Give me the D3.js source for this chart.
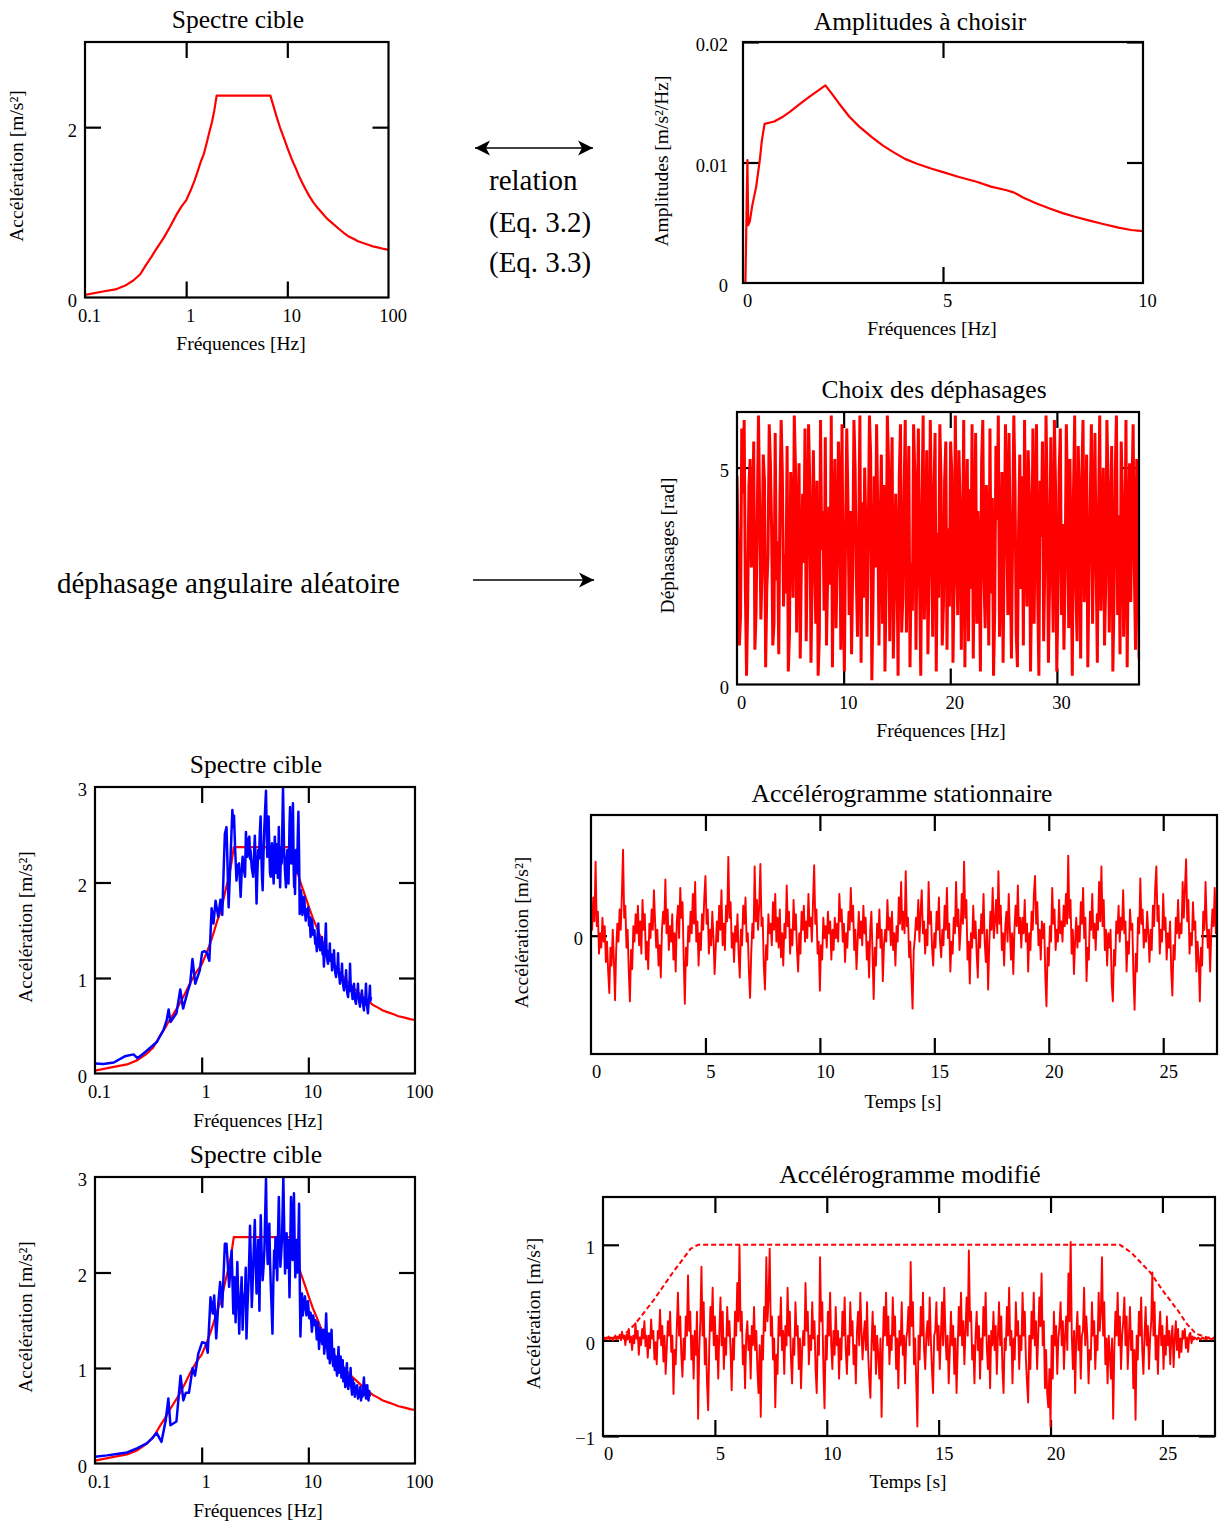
<!DOCTYPE html>
<html>
<head>
<meta charset="utf-8">
<script src="https://cdn.jsdelivr.net/npm/d3@7"></script>
<style>
  html, body { margin: 0; padding: 0; background: #fff; }
  svg { display: block; font-family: "Liberation Serif", "Times New Roman", Times, serif; }
</style>
</head>
<body>
<svg id="fig" width="1227" height="1523"></svg>
<script>
// ---------- Target response spectrum (m/s²) ----------
const targetFreq = [0.1,0.15,0.2,0.25,0.3,0.35,0.4,0.45,0.5,0.6,0.7,0.8,0.9,1.0,1.1,1.2,1.3,1.4,1.5,1.6,1.7,1.8,1.9,2.0,
  6.8,7.2,7.8,8.5,9.2,10,11,12,13,14,15,16.5,18,20,22.5,25,28,32,36,40,45,50,56,63,70,80,90,100];
const targetAccel = [0.03,0.07,0.095,0.14,0.2,0.27,0.38,0.47,0.56,0.70,0.84,0.97,1.07,1.14,1.25,1.36,1.48,1.60,1.69,1.82,1.95,2.06,2.20,2.37,
  2.37,2.27,2.13,1.99,1.88,1.76,1.63,1.53,1.43,1.35,1.28,1.19,1.12,1.05,0.98,0.92,0.87,0.81,0.76,0.72,0.69,0.66,0.64,0.62,0.60,0.585,0.57,0.56];

// ---------- Fourier amplitudes to choose (m/s²/Hz) ----------
const ampFreq = [0.03,0.06,0.11,0.13,0.17,0.23,0.33,0.42,0.47,0.54,0.78,1.0,1.17,1.4,1.64,1.85,2.06,2.2,2.4,2.66,2.9,3.22,3.5,3.79,4.05,4.35,
  4.7,5.0,5.4,5.84,6.2,6.59,6.78,7.0,7.34,7.65,7.99,8.3,8.64,9.0,9.39,9.7,10];
const ampValue = [0,0,0.0102,0.0048,0.0051,0.0064,0.0080,0.0102,0.0118,0.0132,0.0134,0.0138,0.0142,0.0148,0.0154,0.0159,0.0164,0.0158,0.0149,0.0138,
  0.0130,0.0121,0.0114,0.0108,0.0103,0.0099,0.0095,0.0092,0.0088,0.0084,0.0080,0.0077,0.0075,0.0071,0.0066,0.0062,0.0058,0.0055,0.0052,0.0049,
  0.0046,0.0044,0.0043];

// ---------- Random phase angles (rad), one per frequency line ----------
const phaseStep = 0.1119; // Hz between lines
const phaseAngle = [
  4.8,3.1,0.9,1.6,5.9,4.4,6.1,2.2,0.2,1.9,4.6,5.2,2.7,3.4,5.6,0.8,1.7,3.9,6.2,4.1,
  1.5,2.6,5.3,4.7,0.4,2.2,3.0,6.0,5.1,3.6,0.9,1.4,5.8,2.4,3.3,0.7,4.3,6.1,4.9,1.8,
  3.0,2.1,5.5,0.3,1.2,4.9,3.8,2.0,6.2,5.0,1.2,3.7,5.1,0.6,2.9,4.4,2.8,5.9,1.0,3.3,
  6.0,4.6,0.5,2.6,5.4,3.2,1.4,4.7,0.2,1.1,6.1,3.1,4.0,1.7,5.7,0.9,2.5,4.1,2.3,6.2,
  0.4,3.8,5.2,1.3,2.9,5.6,4.5,0.8,6.0,2.1,0.3,3.5,5.9,4.2,1.6,4.0,0.7,2.7,6.1,5.0,
  2.5,1.1,3.4,6.2,0.5,4.2,2.0,5.0,3.6,1.1,3.4,6.2,5.3,0.1,1.9,4.8,2.7,6.0,3.9,0.9,
  3.6,5.3,1.4,4.6,0.3,2.3,6.2,5.1,1.0,3.9,5.7,0.6,2.2,4.4,3.1,0.2,4.8,6.0,1.2,2.0,
  4.4,6.1,1.2,3.3,5.5,0.4,2.8,1.7,6.0,4.9,0.8,3.7,5.9,2.4,0.2,4.1,6.2,1.5,3.0,5.4,
  0.7,2.6,6.1,3.9,1.1,4.3,5.8,0.3,3.5,2.0,6.0,4.7,0.9,1.8,4.7,5.6,0.8,3.6,1.8,5.6,
  4.9,0.5,2.4,6.2,3.0,1.6,5.4,4.1,0.8,2.9,6.1,0.4,3.7,5.2,1.0,4.5,2.2,6.0,0.6,3.2,
  5.8,1.4,4.0,2.8,0.3,5.1,6.1,2.4,1.3,4.6,3.4,0.9,5.9,2.1,4.3,0.2,1.7,5.5,3.8,6.2,
  1.1,2.5,4.9,0.5,3.2,6.0,4.2,1.6,5.8,2.9,0.6,3.5,6.2,4.6,1.2,0.4,3.6,5.3,2.2,4.8,
  0.9,6.1,3.0,1.8,5.4,4.4,0.3,2.5,5.9,1.4,3.9,6.0,2.1,0.2,4.7,3.4,5.6,1.0,2.8,6.2,
  4.1,0.5,2.4,5.7,3.3,1.2,6.1,4.5,0.3,2.0,4.9,5.9,1.6,3.7,0.8,2.6,6.0,4.3,1.3,5.2,
  3.1,0.2,4.4,6.2,2.2,1.0,5.5,3.8,0.6,4.8,6.1,1.9,3.0,5.3,0.4,2.5,4.2,6.0,1.4,3.6,
  5.8,2.7,0.5,4.0,6.2,1.7,3.4,5.0,0.9,2.3,6.1,4.6,1.2,3.8,5.5,0.3,2.0,4.9,6.2,1.6,
  3.9,0.7,5.6,4.3,1.1,2.9,6.1,0.4,3.3,5.1,1.9,4.5,6.0,2.6,0.8,5.2,3.7,0.6
];

// ---------- Response spectra of the generated signals: [frequency Hz, accel m/s²] ----------
const spectrumStationary = [
  [0.10,0.105],[0.12,0.10],[0.15,0.115],[0.19,0.18],[0.23,0.20],[0.25,0.16],[0.30,0.23],[0.38,0.33],[0.44,0.46],[0.47,0.56],
  [0.49,0.67],[0.51,0.54],[0.58,0.63],[0.63,0.88],[0.67,0.68],[0.74,0.86],[0.78,0.94],[0.82,1.20],[0.87,0.94],[0.96,1.08],
  [1.01,1.27],[1.06,1.28],[1.11,1.27],[1.18,1.18],[1.24,1.73],[1.29,1.57],[1.35,1.81],[1.43,1.64],[1.50,1.82],[1.56,1.66],
  [1.60,2.06],[1.65,2.51],[1.71,2.58],[1.79,1.74],[1.84,2.09],[1.94,2.76],[1.98,2.58],[2.01,2.70],[2.06,2.35],[2.12,2.02],
  [2.18,2.18],[2.24,2.20],[2.32,1.85],[2.37,2.10],[2.42,2.27],[2.48,2.15],[2.55,2.06],[2.60,2.53],[2.64,2.35],[2.68,2.27],
  [2.74,2.45],[2.80,2.48],[2.84,2.25],[2.87,2.34],[2.95,2.15],[3.04,2.06],[3.10,2.30],[3.15,2.49],[3.21,2.20],[3.27,1.78],
  [3.33,2.10],[3.39,2.34],[3.45,2.25],[3.51,2.52],[3.57,2.69],[3.63,2.30],[3.68,2.05],[3.73,1.92],[3.80,2.30],[3.87,2.58],
  [3.94,2.78],[4.01,2.96],[4.07,2.55],[4.12,2.27],[4.18,2.50],[4.24,2.69],[4.31,2.35],[4.37,2.10],[4.44,2.06],[4.50,2.30],
  [4.56,2.41],[4.61,2.20],[4.67,2.10],[4.73,1.99],[4.78,2.25],[4.85,2.48],[4.92,2.30],[4.98,2.10],[5.04,2.20],[5.11,2.40],
  [5.18,2.05],[5.24,2.30],[5.29,2.58],[5.35,2.25],[5.40,2.10],[5.44,1.95],[5.50,2.20],[5.57,2.37],[5.63,2.20],[5.70,2.55],
  [5.79,3.00],[5.85,2.70],[5.92,2.35],[6.02,2.16],[6.09,2.05],[6.17,1.95],[6.25,2.20],[6.36,2.34],[6.45,2.10],[6.52,1.99],
  [6.59,2.30],[6.66,2.60],[6.74,2.79],[6.84,2.40],[6.93,2.20],[7.02,2.41],[7.10,2.60],[7.17,2.83],[7.23,2.50],[7.30,2.10],
  [7.37,1.95],[7.44,2.15],[7.50,1.88],[7.58,2.20],[7.66,2.34],[7.72,2.20],[7.80,2.10],[7.87,2.13],[7.95,2.45],[8.07,2.74],
  [8.19,2.30],[8.30,1.67],[8.38,1.80],[8.50,1.92],[8.66,1.85],[8.80,1.66],[8.99,1.78],[9.15,1.85],[9.30,1.70],[9.45,1.60],
  [9.64,1.72],[9.80,1.65],[9.98,1.74],[10.15,1.55],[10.3,1.64],[10.5,1.43],[10.7,1.62],[10.9,1.57],[11.1,1.45],[11.4,1.50],
  [11.6,1.36],[11.8,1.40],[12.0,1.28],[12.2,1.45],[12.4,1.57],[12.6,1.35],[12.9,1.29],[13.1,1.38],[13.4,1.43],[13.6,1.25],
  [13.8,1.32],[14.0,1.12],[14.2,1.30],[14.4,1.40],[14.6,1.57],[14.8,1.30],[15.0,1.20],[15.3,1.15],[15.5,1.28],[15.7,1.22],
  [15.9,1.36],[16.1,1.18],[16.4,1.25],[16.7,1.08],[16.9,1.20],[17.1,1.12],[17.4,1.29],[17.6,1.15],[17.9,1.05],[18.2,1.01],
  [18.4,1.12],[18.7,1.06],[19.0,1.26],[19.2,1.10],[19.5,1.02],[19.8,0.94],[20.0,1.04],[20.3,0.98],[20.7,1.15],[20.9,1.00],
  [21.2,0.93],[21.6,0.87],[21.9,0.98],[22.2,0.94],[22.6,1.08],[22.9,0.90],[23.2,0.84],[23.6,0.80],[23.9,0.92],[24.2,0.86],
  [24.6,1.15],[24.9,0.95],[25.3,0.88],[25.7,0.84],[26.0,0.78],[26.4,0.90],[26.8,0.94],[27.1,0.82],[27.5,0.76],[28.0,0.73],
  [28.3,0.84],[28.7,0.80],[29.2,0.94],[29.5,0.82],[30.0,0.75],[30.5,0.70],[30.9,0.80],[31.3,0.76],[31.8,0.87],[32.2,0.78],
  [32.7,0.72],[33.2,0.66],[33.6,0.78],[34.1,0.72],[34.7,0.94],[35.1,0.80],[35.6,0.70],[36.2,0.63],[36.7,0.74],[37.2,0.78],
  [37.8,0.92],[38.2,0.76],[38.7,0.80]
];
const spectrumModified = [
  [0.10,0.07],[0.13,0.085],[0.16,0.10],[0.20,0.115],[0.25,0.16],[0.305,0.21],[0.34,0.26],[0.378,0.32],[0.42,0.227],[0.46,0.45],
  [0.487,0.68],[0.51,0.40],[0.58,0.44],[0.634,0.92],[0.673,0.66],[0.71,0.74],[0.76,0.74],[0.823,1.00],[0.866,0.92],[0.93,1.15],
  [1.01,1.27],[1.09,1.26],[1.14,1.16],[1.21,1.74],[1.27,1.57],[1.31,1.76],[1.37,1.31],[1.43,1.67],[1.49,1.90],[1.56,1.64],
  [1.65,2.30],[1.71,2.30],[1.81,1.85],[1.91,2.23],[1.98,1.57],[2.03,1.95],[2.08,1.48],[2.12,1.80],[2.16,2.11],[2.20,1.75],
  [2.25,1.36],[2.28,1.60],[2.32,1.74],[2.37,1.95],[2.42,1.40],[2.48,1.70],[2.55,1.81],[2.59,2.05],[2.63,1.31],[2.69,1.65],
  [2.75,1.90],[2.80,2.20],[2.84,2.49],[2.90,2.05],[2.95,1.64],[3.00,1.85],[3.04,2.06],[3.09,2.30],[3.15,2.55],[3.21,2.10],
  [3.27,1.78],[3.33,2.05],[3.39,2.34],[3.44,1.95],[3.48,1.60],[3.53,2.15],[3.58,2.60],[3.65,2.20],[3.73,1.92],[3.80,2.05],
  [3.87,2.23],[3.94,2.60],[4.01,2.98],[4.08,2.40],[4.16,2.09],[4.23,2.30],[4.31,2.51],[4.37,2.15],[4.44,1.88],[4.52,1.65],
  [4.61,1.36],[4.70,1.90],[4.78,2.23],[4.85,2.05],[4.92,2.37],[5.01,2.15],[5.11,1.92],[5.20,2.40],[5.29,2.79],[5.38,2.35],
  [5.47,2.06],[5.57,2.20],[5.67,2.37],[5.75,2.70],[5.83,3.00],[5.94,2.45],[6.05,1.99],[6.15,2.20],[6.26,2.41],[6.37,2.05],
  [6.48,2.34],[6.57,2.10],[6.66,1.74],[6.77,2.30],[6.88,2.79],[7.00,2.45],[7.12,2.13],[7.22,2.55],[7.33,2.83],[7.44,2.30],
  [7.55,1.95],[7.66,2.15],[7.78,2.34],[7.90,2.00],[8.01,2.13],[8.10,2.45],[8.19,2.72],[8.31,1.90],[8.43,1.33],[8.57,1.60],
  [8.72,1.78],[8.88,1.55],[9.05,1.64],[9.3,1.75],[9.6,1.55],[9.9,1.70],[10.2,1.52],[10.5,1.58],[10.8,1.38],[11.1,1.55],
  [11.4,1.45],[11.7,1.50],[12.0,1.30],[12.3,1.48],[12.6,1.20],[12.9,1.42],[13.2,1.35],[13.5,1.25],[13.8,1.40],[14.1,1.15],
  [14.4,1.30],[14.7,1.57],[15.0,1.22],[15.3,1.10],[15.6,1.36],[15.9,1.05],[16.2,1.25],[16.5,1.40],[16.8,1.10],[17.1,1.02],
  [17.4,1.20],[17.7,0.98],[18.0,1.12],[18.3,1.00],[18.6,0.92],[18.9,1.08],[19.2,1.22],[19.5,0.95],[19.8,1.05],[20.1,1.12],
  [20.4,0.90],[20.7,0.98],[21.0,1.08],[21.3,0.86],[21.6,1.00],[21.9,0.92],[22.2,0.80],[22.6,0.95],[23.0,1.05],[23.3,0.84],
  [23.7,0.78],[24.1,0.92],[24.5,0.82],[24.9,1.00],[25.3,0.80],[25.7,0.72],[26.1,0.88],[26.5,0.78],[26.9,0.84],[27.3,0.70],
  [27.8,0.80],[28.2,0.74],[28.7,0.82],[29.2,0.68],[29.7,0.76],[30.2,0.70],[30.7,0.80],[31.2,0.66],[31.7,0.74],[32.2,0.70],
  [32.7,0.80],[33.2,0.90],[33.7,0.72],[34.2,0.82],[34.7,0.68],[35.2,0.76],[35.7,0.82],[36.2,0.68],[36.7,0.66],[37.2,0.76],
  [37.7,0.70]
];

// ---------- Accelerograms (m/s²), sampled every accelStep seconds ----------
const accelStep = 0.05;
const stationaryAccel = [
  0.25,0.05,0.32,0.12,0.62,0.08,0.20,-0.15,0.02,-0.10,0.15,-0.05,0.08,-0.22,-0.05,-0.30,-0.48,-0.10,-0.25,0.05,
  -0.20,-0.54,-0.12,0.10,-0.05,0.22,0.05,0.35,0.72,0.15,0.25,-0.10,0.05,-0.30,-0.55,-0.12,-0.28,0.08,-0.05,0.18,
  0.02,0.25,-0.08,0.12,-0.15,0.30,0.05,0.18,-0.20,-0.05,-0.28,0.10,-0.02,0.22,0.05,0.38,0.12,-0.10,0.05,-0.25,
  -0.08,-0.35,0.05,0.20,0.10,0.47,0.02,0.22,-0.12,0.08,-0.05,0.18,-0.20,0.02,-0.30,0.12,0.25,-0.02,0.40,0.15,
  0.28,-0.20,-0.57,-0.10,-0.25,0.08,-0.05,0.20,0.02,0.35,0.10,0.45,-0.05,0.12,-0.25,0.02,-0.12,0.18,0.05,0.32,
  0.50,0.10,0.22,-0.15,0.05,-0.08,0.20,-0.02,-0.32,-0.10,0.12,-0.05,0.25,0.05,0.38,-0.08,0.10,-0.12,0.25,0.12,
  0.66,0.15,0.28,-0.10,0.02,-0.22,0.08,-0.05,0.18,-0.15,-0.35,0.05,-0.08,0.25,0.10,0.32,-0.05,0.02,-0.30,-0.52,
  -0.15,0.10,-0.02,0.58,0.12,0.30,0.05,0.25,0.60,0.08,0.15,-0.25,-0.45,-0.08,-0.20,0.18,0.02,0.10,-0.08,0.28,
  0.05,0.35,-0.05,0.15,-0.10,0.22,-0.18,0.02,-0.25,0.10,-0.02,0.42,0.08,0.20,-0.15,0.05,-0.08,0.30,0.05,0.18,
  -0.12,-0.30,0.02,-0.15,0.20,0.05,0.25,-0.05,0.12,-0.02,0.35,0.08,0.15,-0.05,0.28,0.59,0.10,0.22,-0.15,-0.05,
  -0.46,-0.08,-0.20,0.15,-0.02,0.08,-0.10,0.20,0.02,0.12,-0.20,0.05,-0.12,0.15,-0.02,0.10,-0.05,0.35,0.12,0.22,
  -0.05,0.10,-0.22,0.02,-0.10,0.20,0.05,0.40,0.12,0.25,-0.12,0.05,-0.28,-0.05,0.20,-0.02,0.12,-0.08,0.25,0.02,
  0.15,-0.20,-0.05,-0.35,0.05,0.20,-0.15,-0.53,-0.10,-0.25,0.10,-0.02,0.22,-0.10,0.05,-0.38,-0.08,0.05,-0.05,0.30,
  0.05,0.15,-0.08,0.20,-0.12,0.02,-0.25,0.08,-0.05,0.32,0.10,0.45,0.05,0.20,0.02,0.54,0.08,0.15,-0.18,-0.05,
  -0.35,-0.61,-0.12,-0.02,0.15,0.05,0.30,-0.05,0.20,0.38,0.02,0.12,-0.15,0.05,-0.08,0.45,0.10,0.20,-0.10,-0.25,
  0.02,-0.10,0.20,0.05,0.32,-0.05,-0.18,0.05,-0.08,0.25,0.05,0.40,-0.02,0.10,-0.30,-0.05,-0.15,0.15,0.02,0.45,
  0.08,0.22,-0.12,0.05,0.35,0.10,0.62,0.15,0.30,-0.20,-0.05,-0.40,0.02,-0.10,0.25,-0.02,0.12,-0.15,-0.35,0.05,
  -0.10,0.18,0.02,0.35,-0.05,-0.22,0.05,-0.45,-0.08,0.20,0.05,0.40,-0.02,0.12,0.30,0.02,0.54,0.10,0.25,-0.12,
  0.02,-0.25,0.08,0.20,-0.05,0.35,0.05,-0.20,0.02,-0.32,0.05,0.25,0.08,0.42,0.02,0.15,-0.10,0.15,0.02,0.30,
  -0.05,0.10,-0.30,0.02,-0.12,0.20,0.05,0.35,0.50,0.10,0.28,-0.08,0.05,-0.20,0.12,-0.02,0.10,-0.35,-0.59,-0.10,
  -0.25,0.08,-0.05,0.40,0.10,0.22,-0.12,0.05,-0.05,0.30,0.02,0.12,-0.05,0.25,0.08,0.35,0.10,0.67,0.15,0.30,
  -0.15,0.05,-0.32,-0.05,0.15,-0.10,0.08,-0.05,0.28,0.10,0.40,-0.02,0.15,-0.38,-0.10,-0.20,0.20,0.05,0.35,-0.02,
  0.10,-0.12,0.18,0.05,0.45,0.12,0.58,0.08,0.30,-0.12,0.05,-0.25,0.02,-0.10,0.05,-0.40,-0.55,-0.12,-0.25,0.12,
  0.02,0.25,-0.05,0.15,0.05,0.38,0.02,0.12,-0.30,-0.05,-0.15,0.22,0.05,0.10,-0.35,-0.62,-0.15,-0.30,0.15,0.02,
  0.48,0.10,0.22,-0.10,0.05,-0.05,0.20,0.02,-0.22,0.05,-0.12,0.25,0.08,0.40,0.58,0.12,0.25,-0.15,0.05,-0.05,
  0.35,0.05,0.15,-0.20,0.02,-0.10,0.12,-0.30,-0.50,-0.08,-0.20,0.15,0.02,0.30,-0.02,0.10,0.02,0.45,0.15,0.40,
  0.64,0.12,0.30,-0.15,0.02,-0.08,0.28,0.05,0.12,-0.30,-0.05,-0.20,-0.55,-0.10,-0.25,0.20,0.05,0.45,0.10,-0.10,
  0.05,-0.30,0.02,0.22,0.08,0.40,0.02,0.12
];
const modifiedAccel = [
  0.02,0.03,0.01,0.03,0.02,0.04,0.01,0.03,0.02,0.00,0.03,0.05,0.01,0.04,0.02,0.06,0.00,0.09,0.02,0.05,
  -0.05,0.06,0.01,0.12,-0.02,0.04,-0.10,0.05,-0.03,0.18,0.02,0.10,-0.15,0.03,-0.05,0.12,0.02,0.20,-0.06,0.05,
  -0.18,0.05,-0.08,0.22,0.02,0.10,-0.20,-0.02,-0.25,0.10,0.02,0.32,-0.05,0.15,-0.22,0.05,-0.35,-0.08,0.20,0.05,
  0.30,-0.12,0.05,-0.56,-0.10,-0.25,0.15,0.50,0.05,0.25,-0.15,-0.38,0.02,-0.20,0.25,0.05,0.68,0.10,0.30,-0.20,
  0.05,-0.40,0.10,-0.15,0.30,-0.82,-0.10,0.20,0.77,0.05,0.40,-0.25,0.02,-0.45,-0.73,-0.05,0.35,0.10,0.55,-0.05,
  0.25,-0.20,0.05,-0.40,0.10,0.45,-0.05,0.30,-0.30,0.02,-0.15,0.35,0.05,0.20,-0.10,-0.52,0.02,-0.20,0.30,0.05,
  0.60,0.20,0.99,0.10,0.30,-0.25,-0.05,-0.50,0.05,0.20,-0.10,0.05,-0.40,0.15,-0.05,0.35,-0.10,0.10,-0.30,-0.55,
  -0.05,-0.80,0.05,-0.20,0.35,0.10,0.87,0.20,0.45,0.96,0.05,0.25,-0.20,0.02,-0.70,-0.15,-0.35,0.25,0.05,0.45,
  -0.10,0.10,-0.35,0.15,-0.05,0.55,0.05,0.30,-0.20,-0.45,0.02,-0.15,0.40,0.05,0.15,-0.30,0.02,-0.50,-0.10,0.10,
  -0.05,0.60,0.10,0.30,-0.25,0.05,-0.10,0.40,0.02,0.20,-0.30,-0.55,0.05,-0.15,0.87,0.20,0.40,-0.30,-0.71,0.05,
  -0.20,0.30,0.05,0.50,-0.05,-0.30,0.10,-0.15,0.35,-0.05,0.10,-0.40,0.02,-0.20,0.30,0.05,0.45,-0.10,-0.35,0.05,
  -0.15,0.40,0.05,0.20,-0.25,-0.05,-0.45,0.10,0.30,-0.05,0.50,0.10,-0.20,0.05,0.20,-0.10,0.40,-0.15,-0.40,-0.60,
  -0.05,0.30,-0.10,0.15,-0.35,0.05,-0.15,-0.40,0.02,-0.80,-0.10,0.35,0.05,0.50,-0.05,0.25,-0.25,0.05,-0.10,0.45,
  0.05,0.25,-0.30,0.02,-0.50,0.10,-0.05,0.40,-0.15,0.05,-0.45,0.02,0.10,0.35,-0.05,0.82,0.15,0.40,-0.25,0.02,
  -0.45,-0.90,0.05,-0.20,0.35,0.05,0.50,-0.10,-0.30,0.05,0.20,-0.05,0.45,0.02,-0.30,-0.55,0.05,0.10,0.40,-0.10,
  0.15,-0.30,0.05,0.40,-0.05,0.55,0.10,-0.20,0.05,-0.45,-0.10,0.30,-0.05,0.15,-0.35,0.02,-0.55,-0.10,0.35,0.05,
  0.50,-0.05,0.20,-0.25,0.10,0.45,0.05,0.94,0.20,0.30,-0.20,-0.05,-0.45,0.05,0.30,-0.10,0.15,-0.40,0.02,-0.20,
  0.35,0.05,0.50,-0.05,-0.30,0.05,-0.50,0.10,-0.05,0.30,-0.10,0.15,-0.35,0.05,0.40,-0.05,0.25,-0.30,-0.55,0.02,
  -0.10,0.35,0.05,0.55,-0.05,0.10,-0.45,0.02,-0.20,0.40,0.05,0.20,-0.30,0.05,-0.10,0.50,0.05,0.30,-0.20,-0.45,
  -0.65,0.05,-0.30,0.30,0.02,0.50,-0.05,0.20,-0.30,0.05,0.45,0.15,0.70,-0.05,0.20,-0.50,-0.10,-0.55,-0.70,-0.30,
  -0.90,0.05,-0.40,0.30,-0.05,0.15,-0.35,0.02,0.15,0.40,-0.05,0.20,-0.30,0.05,0.25,-0.10,0.70,0.20,1.03,0.05,
  -0.30,0.10,-0.55,0.05,0.30,-0.10,0.15,-0.40,0.05,0.10,0.55,-0.05,0.25,0.02,-0.45,-0.10,-0.20,0.40,0.05,0.20,
  -0.30,0.05,-0.10,0.50,0.10,0.30,0.87,0.05,0.40,-0.25,0.02,-0.45,0.05,-0.15,-0.40,0.02,-0.82,-0.10,0.30,0.05,
  0.50,-0.05,0.25,-0.30,0.05,0.20,0.45,-0.05,0.25,-0.30,0.02,0.35,-0.10,0.10,-0.50,-0.10,-0.83,0.05,-0.20,0.30,
  0.05,0.45,-0.10,-0.35,0.05,0.35,-0.05,0.15,-0.30,0.02,0.20,0.71,0.05,0.40,-0.20,0.05,-0.35,0.10,0.30,-0.05,
  0.15,-0.30,0.05,-0.15,0.25,-0.05,0.10,-0.25,0.05,0.15,-0.28,0.02,0.20,-0.10,0.12,-0.18,0.02,-0.12,0.10,0.02,
  0.12,-0.08,0.03,-0.12,0.06,0.08,-0.03,0.04,0.01,0.03,0.02,0.01,0.03,0.02,0.01,0.02,0.03,0.02,0.02,0.01,
  0.02,0.03,0.02,0.02,0.01,0.02,0.03,0.02
];

// ---------- Time envelope (normalised) ----------
const envelopeTime  = [0,0.6,1.0,1.43,2.26,3.09,3.92,4.25,23.1,23.6,24.46,25.08,25.7,26.1,26.5,27.0,27.35];
const envelopeValue = [0.02,0.03,0.07,0.17,0.42,0.70,0.96,1.0,1.0,0.92,0.71,0.50,0.31,0.17,0.07,0.03,0.02];

// ---------- Drawing ----------
const svg = d3.select('#fig');
svg.append('rect').attr('width', 1227).attr('height', 1523).attr('fill', '#fff');

const RED = '#ff0000', BLUE = '#0000ff';
const TICK = 16;

function zip(xs, ys) { return xs.map((v, i) => [v, ys[i]]); }
function sampled(values, step) { return values.map((v, i) => [i * step, v]); }

function panel(c) {
  const x = (c.log ? d3.scaleLog() : d3.scaleLinear()).domain(c.xDomain).range([c.l, c.r]);
  const y = d3.scaleLinear().domain(c.yDomain).range([c.b, c.t]);
  const g = svg.append('g');

  // inward tick marks on all four sides (drawn beneath the curves)
  const tickAxes = [
    [d3.axisBottom(x).tickValues(c.xTicks), `translate(0,${c.b})`],
    [d3.axisTop(x).tickValues(c.xTicks), `translate(0,${c.t})`],
    [d3.axisLeft(y).tickValues(c.yTicks), `translate(${c.l},0)`],
    [d3.axisRight(y).tickValues(c.yTicks), `translate(${c.r},0)`]
  ];
  tickAxes.forEach(([ax, tr]) => {
    const a = g.append('g').attr('transform', tr).call(ax.tickSize(-TICK).tickFormat(''));
    a.select('.domain').remove();
    a.selectAll('.tick line').attr('stroke', '#000').attr('stroke-width', 2.2);
    a.selectAll('.tick text').remove();
  });

  const clipId = 'clip-' + c.id;
  g.append('clipPath').attr('id', clipId).append('rect')
    .attr('x', c.l).attr('y', c.t).attr('width', c.r - c.l).attr('height', c.b - c.t);
  const plot = g.append('g').attr('clip-path', `url(#${clipId})`);

  const line = d3.line().x(d => x(d[0])).y(d => y(d[1]));
  c.series.forEach(s => {
    plot.append('path').datum(s.data)
      .attr('d', line)
      .attr('fill', 'none')
      .attr('stroke', s.color)
      .attr('stroke-width', s.width)
      .attr('stroke-linejoin', s.join || 'round')
      .attr('stroke-dasharray', s.dash || null);
  });

  // frame
  g.append('rect').attr('x', c.l).attr('y', c.t).attr('width', c.r - c.l).attr('height', c.b - c.t)
    .attr('fill', 'none').attr('stroke', '#000').attr('stroke-width', 2.2);

  // tick labels
  const xl = g.append('g').attr('transform', `translate(0,${c.b})`)
    .call(d3.axisBottom(x).tickValues(c.xLabelVals).tickSize(0).tickPadding(11)
      .tickFormat((d, i) => c.xLabelText[i]));
  xl.select('.domain').remove();
  xl.attr('font-family', null).attr('font-size', null);
  xl.selectAll('text').attr('dx', c.xLabelDx || 4).attr('fill', '#000').style('font-size', '18.5px');

  const yl = g.append('g').attr('transform', `translate(${c.l},0)`)
    .call(d3.axisLeft(y).tickValues(c.yLabelVals).tickSize(0).tickPadding(c.yPad || 8)
      .tickFormat((d, i) => c.yLabelText[i]));
  yl.select('.domain').remove();
  yl.attr('font-family', null).attr('font-size', null);
  yl.selectAll('text').attr('y', 3).attr('fill', '#000').style('font-size', '18.5px');

  // titles
  g.append('text').attr('x', c.titleX).attr('y', c.titleY).attr('text-anchor', 'middle')
    .style('font-size', '25.5px').text(c.title);
  g.append('text').attr('x', c.xTitleX).attr('y', c.xTitleY).attr('text-anchor', 'middle')
    .style('font-size', '19.5px').text(c.xTitle);
  g.append('text').attr('transform', `translate(${c.yTitleX},${c.yTitleY}) rotate(-90)`)
    .attr('text-anchor', 'middle').style('font-size', '19.5px').text(c.yTitle);
}

const targetSeries = zip(targetFreq, targetAccel);
const logLabelVals = [0.1, 1, 10, 100], logLabelText = ['0.1', '1', '10', '100'];

// Target spectrum
panel({
  id: 'p1', l: 85, r: 388.5, t: 42, b: 297.5, log: true,
  xDomain: [0.1, 100], yDomain: [0, 3],
  xTicks: [1, 10], yTicks: [2],
  xLabelVals: logLabelVals, xLabelText: logLabelText,
  yLabelVals: [0, 2], yLabelText: ['0', '2'],
  series: [{ data: targetSeries, color: RED, width: 2.2 }],
  title: 'Spectre cible', titleX: 238, titleY: 28,
  xTitle: 'Fréquences [Hz]', xTitleX: 241, xTitleY: 349.5,
  yTitle: 'Accélération [m/s²]', yTitleX: 23, yTitleY: 166
});

// Fourier amplitudes
panel({
  id: 'p2', l: 743, r: 1143, t: 42, b: 283,
  xDomain: [0, 10], yDomain: [0, 0.02],
  xTicks: [5], yTicks: [0.01, 0.02],
  xLabelVals: [0, 5, 10], xLabelText: ['0', '5', '10'],
  yLabelVals: [0, 0.01, 0.02], yLabelText: ['0', '0.01', '0.02'], yPad: 15,
  series: [{ data: zip(ampFreq, ampValue), color: RED, width: 2.2 }],
  title: 'Amplitudes à choisir', titleX: 920, titleY: 30,
  xTitle: 'Fréquences [Hz]', xTitleX: 932, xTitleY: 334.5,
  yTitle: 'Amplitudes [m/s²/Hz]', yTitleX: 668, yTitleY: 161
});

// Random phases
panel({
  id: 'p3', l: 737, r: 1139, t: 412, b: 684.5,
  xDomain: [0, 37.7], yDomain: [0, 2 * Math.PI],
  xTicks: [10, 20, 30], yTicks: [5],
  xLabelVals: [0, 10, 20, 30], xLabelText: ['0', '10', '20', '30'],
  yLabelVals: [0, 5], yLabelText: ['0', '5'],
  series: [{ data: sampled(phaseAngle, phaseStep), color: RED, width: 3, join: 'miter' }],
  title: 'Choix des déphasages', titleX: 934, titleY: 398,
  xTitle: 'Fréquences [Hz]', xTitleX: 941, xTitleY: 737,
  yTitle: 'Déphasages [rad]', yTitleX: 674, yTitleY: 545.5
});

// Spectrum of the stationary signal vs target
panel({
  id: 'p4', l: 95, r: 415, t: 787, b: 1073.5, log: true,
  xDomain: [0.1, 100], yDomain: [0, 3],
  xTicks: [1, 10], yTicks: [1, 2],
  xLabelVals: logLabelVals, xLabelText: logLabelText,
  yLabelVals: [0, 1, 2, 3], yLabelText: ['0', '1', '2', '3'],
  series: [{ data: targetSeries, color: RED, width: 2.2 }, { data: spectrumStationary, color: BLUE, width: 2.5 }],
  title: 'Spectre cible', titleX: 256, titleY: 772.5,
  xTitle: 'Fréquences [Hz]', xTitleX: 258, xTitleY: 1126.5,
  yTitle: 'Accélération [m/s²]', yTitleX: 32, yTitleY: 927
});

// Spectrum of the modified signal vs target
panel({
  id: 'p5', l: 95, r: 415, t: 1177, b: 1463.5, log: true,
  xDomain: [0.1, 100], yDomain: [0, 3],
  xTicks: [1, 10], yTicks: [1, 2],
  xLabelVals: logLabelVals, xLabelText: logLabelText,
  yLabelVals: [0, 1, 2, 3], yLabelText: ['0', '1', '2', '3'],
  series: [{ data: targetSeries, color: RED, width: 2.2 }, { data: spectrumModified, color: BLUE, width: 2.5 }],
  title: 'Spectre cible', titleX: 256, titleY: 1162.5,
  xTitle: 'Fréquences [Hz]', xTitleX: 258, xTitleY: 1516.5,
  yTitle: 'Accélération [m/s²]', yTitleX: 32, yTitleY: 1317
});

const timeLabels = [0, 5, 10, 15, 20, 25];

// Stationary accelerogram
panel({
  id: 'p6', l: 591, r: 1217, t: 815, b: 1054,
  xDomain: [0, 27.35], yDomain: [-0.99, 1.01],
  xTicks: [5, 10, 15, 20, 25], yTicks: [0],
  xLabelVals: timeLabels, xLabelText: timeLabels.map(String), xLabelDx: 5,
  yLabelVals: [0], yLabelText: ['0'],
  series: [{ data: sampled(stationaryAccel, accelStep), color: RED, width: 1.9 }],
  title: 'Accélérogramme stationnaire', titleX: 902, titleY: 802,
  xTitle: 'Temps [s]', xTitleX: 903, xTitleY: 1108,
  yTitle: 'Accélération [m/s²]', yTitleX: 528, yTitleY: 932.5
});

// Modulated accelerogram with its envelope
panel({
  id: 'p7', l: 603, r: 1215, t: 1197, b: 1436,
  xDomain: [0, 27.35], yDomain: [-1, 1.5],
  xTicks: [5, 10, 15, 20, 25], yTicks: [-1, 0, 1],
  xLabelVals: timeLabels, xLabelText: timeLabels.map(String), xLabelDx: 5,
  yLabelVals: [-1, 0, 1], yLabelText: ['\u22121', '0', '1'],
  series: [
    { data: zip(envelopeTime, envelopeValue), color: RED, width: 2, dash: '5,3' },
    { data: sampled(modifiedAccel, accelStep), color: RED, width: 1.9 }
  ],
  title: 'Accélérogramme modifié', titleX: 910, titleY: 1183,
  xTitle: 'Temps [s]', xTitleX: 908, xTitleY: 1488,
  yTitle: 'Accélération [m/s²]', yTitleX: 540, yTitleY: 1313.5
});

// ---------- Connecting arrows and captions ----------
const defs = svg.append('defs');
defs.append('marker').attr('id', 'head')
  .attr('viewBox', '0 0 16 16').attr('refX', 15).attr('refY', 8)
  .attr('markerWidth', 16).attr('markerHeight', 16)
  .attr('markerUnits', 'userSpaceOnUse').attr('orient', 'auto-start-reverse')
  .append('path').attr('d', 'M0,0.5 L15,8 L0,15.5 L4,8 Z').attr('fill', '#000');

svg.append('line').attr('x1', 475).attr('x2', 593).attr('y1', 148).attr('y2', 148)
  .attr('stroke', '#000').attr('stroke-width', 1.6)
  .attr('marker-start', 'url(#head)').attr('marker-end', 'url(#head)');
svg.append('line').attr('x1', 473).attr('x2', 594).attr('y1', 580).attr('y2', 580)
  .attr('stroke', '#000').attr('stroke-width', 1.6)
  .attr('marker-end', 'url(#head)');

const caption = [
  { text: 'relation', x: 489, y: 190 },
  { text: '(Eq. 3.2)', x: 489, y: 232 },
  { text: '(Eq. 3.3)', x: 489, y: 272 },
  { text: 'déphasage angulaire aléatoire', x: 57, y: 593 }
];
svg.selectAll('text.caption').data(caption).join('text')
  .attr('class', 'caption')
  .attr('x', d => d.x).attr('y', d => d.y)
  .style('font-size', '29px')
  .text(d => d.text);
</script>
</body>
</html>
